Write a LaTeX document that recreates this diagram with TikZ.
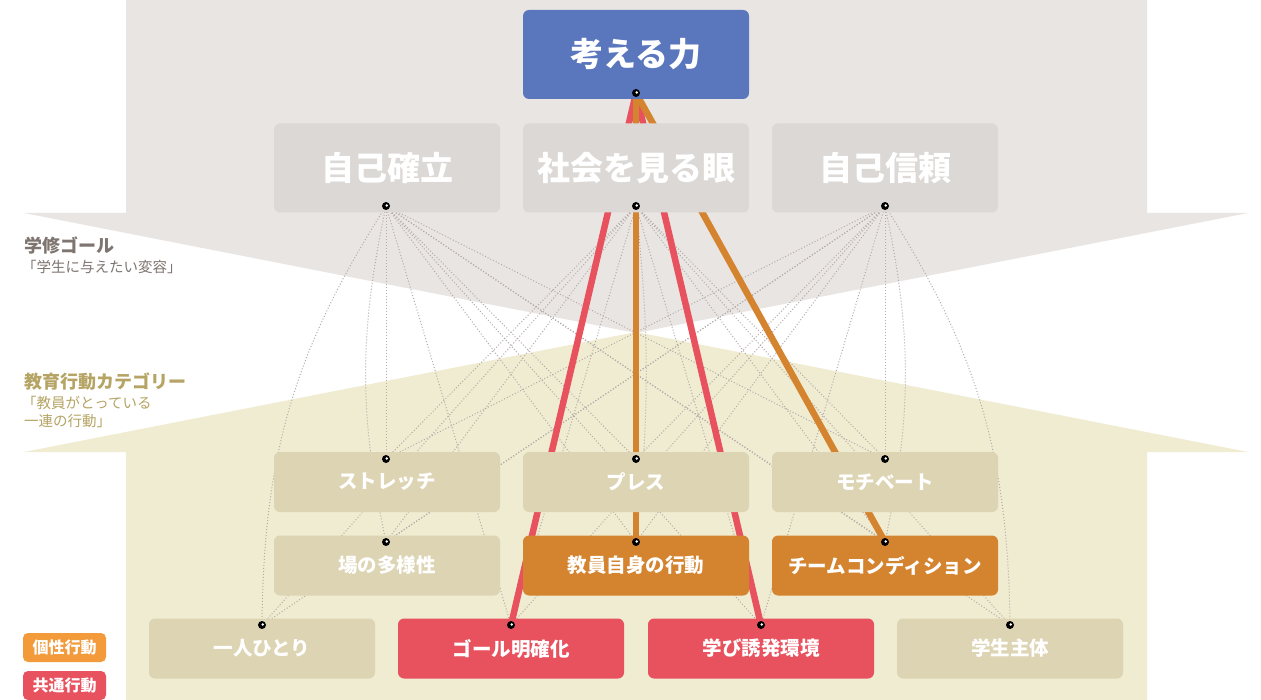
\documentclass[tikz,border=0pt]{standalone}
\usepackage{fontspec}
\newfontfamily\jp{Noto Sans CJK JP}
\usetikzlibrary{calc}
\definecolor{bggray}{HTML}{E9E5E2}
\definecolor{bgbeige}{HTML}{F0ECD1}
\definecolor{boxgray}{HTML}{DCD8D5}
\definecolor{boxbeige}{HTML}{DDD4B4}
\definecolor{kblue}{HTML}{5A77BD}
\definecolor{korange}{HTML}{D4842F}
\definecolor{kred}{HTML}{E8525F}
\definecolor{legor}{HTML}{F39A3B}
\definecolor{dotc}{HTML}{B3A9A9}
\definecolor{lblgray}{HTML}{7F7570}
\definecolor{lblgold}{HTML}{B5A464}
\pgfdeclarelayer{back}
\pgfdeclarelayer{lines}
\pgfdeclarelayer{front}
\pgfsetlayers{back,lines,main,front}
\tikzset{
  box/.style={rounded corners=6pt, minimum width=226pt, inner sep=0pt, text=white, font=\jp\bfseries\fontsize{19.5pt}{22pt}\selectfont},
  bigbox/.style={box, minimum height=89pt, font=\jp\bfseries\fontsize{33pt}{36pt}\selectfont},
  smallbox/.style={box, minimum height=60pt},
  dotn/.style={circle, fill=black, minimum size=8pt, inner sep=0pt,
    path picture={\fill[white] ($(path picture bounding box.center)+(0.7pt,0.5pt)$) circle (1.4pt);}},
  dotline/.style={draw=dotc, line width=1pt, dash pattern=on 1pt off 2pt},
  thickred/.style={draw=kred, line width=6.5pt},
  thickor/.style={draw=korange, line width=6.5pt},
  legbox/.style={rounded corners=5pt, minimum width=83pt, minimum height=29pt, inner sep=0pt, text=white, font=\jp\bfseries\fontsize{16pt}{18pt}\selectfont},
  lblbig/.style={anchor=west, inner sep=0pt, font=\jp\bfseries\fontsize{18pt}{20pt}\selectfont},
  lblsmall/.style={anchor=west, inner sep=0pt, font=\jp\fontsize{14.5pt}{16pt}\selectfont},
}
\begin{document}
\begin{tikzpicture}[x=1pt,y=-1pt]
\useasboundingbox (0,0) rectangle (1261,700);
\begin{pgfonlayer}{back}
\fill[white] (0,0) rectangle (1261,700);
\fill[bggray] (126,0) -- (1147,0) -- (1147,213) -- (1248,213) -- (636,333) -- (24,213) -- (126,213) -- cycle;
\fill[bgbeige] (126,700) -- (126,452) -- (24,452) -- (636,332) -- (1248,452) -- (1147,452) -- (1147,700) -- cycle;
\end{pgfonlayer}

% boxes
\node[bigbox, fill=kblue] (k) at (636,54.5) {考える力};
\node[bigbox, fill=boxgray] (a) at (387,168) {自己確立};
\node[bigbox, fill=boxgray] (b) at (636,168) {社会を見る眼};
\node[bigbox, fill=boxgray] (c) at (885,168) {自己信頼};
\node[smallbox, fill=boxbeige] (s) at (387,482) {ストレッチ};
\node[smallbox, fill=boxbeige] (p) at (636,482) {プレス};
\node[smallbox, fill=boxbeige] (m) at (885,482) {モチベート};
\node[smallbox, fill=boxbeige] (d) at (387,565.5) {場の多様性};
\node[smallbox, fill=korange] (e) at (636,565.5) {教員自身の行動};
\node[smallbox, fill=korange] (t) at (885,565.5) {チームコンディション};
\node[smallbox, fill=boxbeige] (h) at (262,648.5) {一人ひとり};
\node[smallbox, fill=kred] (g) at (511,648.5) {ゴール明確化};
\node[smallbox, fill=kred] (l) at (761,648.5) {学び誘発環境};
\node[smallbox, fill=boxbeige] (u) at (1010,648.5) {学生主体};

% dots
\begin{pgfonlayer}{front}
\node[dotn] (dk) at (636,93) {};
\node[dotn] (da) at (386,206) {};
\node[dotn] (db) at (636,206) {};
\node[dotn] (dc) at (885,206) {};
\node[dotn] (ds) at (386,459) {};
\node[dotn] (dp) at (636,459) {};
\node[dotn] (dm) at (885,459) {};
\node[dotn] (dd) at (386,542) {};
\node[dotn] (de) at (636,542) {};
\node[dotn] (dt) at (885,542) {};
\node[dotn] (dh) at (262,625) {};
\node[dotn] (dg) at (511,625) {};
\node[dotn] (dl) at (761,625) {};
\node[dotn] (du) at (1010,625) {};
\end{pgfonlayer}

% connectors
\begin{pgfonlayer}{lines}
\foreach \src in {da,db,dc}{
  \foreach \dst in {ds,dp,dm,dg,dl}{
    \draw[dotline] (\src.center) -- (\dst.center);
  }
}
\draw[dotline] (da.center) to[bend right=12] (dd.center);
\draw[dotline] (da.center) to[bend right=16] (dh.center);
\draw[dotline] (da.center) -- (de.center);
\draw[dotline] (da.center) -- (dt.center);
\draw[dotline] (da.center) -- (du.center);
\draw[dotline] (db.center) -- (dd.center);
\draw[dotline] (db.center) to[bend left=6] (de.center);
\draw[dotline] (db.center) -- (dt.center);
\draw[dotline] (db.center) -- (dh.center);
\draw[dotline] (db.center) -- (du.center);
\draw[dotline] (dc.center) -- (dd.center);
\draw[dotline] (dc.center) -- (de.center);
\draw[dotline] (dc.center) to[bend left=12] (dt.center);
\draw[dotline] (dc.center) -- (dh.center);
\draw[dotline] (dc.center) to[bend left=16] (du.center);
\draw[thickred] (dk.center) -- (dg.center);
\draw[thickred] (dk.center) -- (dl.center);
\draw[thickor] (dk.center) -- (de.center);
\draw[thickor] (dk.center) -- (dt.center);
\end{pgfonlayer}

% side labels
\node[lblbig, text=lblgray] (l1) at (24,245) {学修ゴール};
\node[lblsmall, text=lblgray] (l2) at (22,267) {「学生に与えたい変容」};
\node[lblbig, text=lblgold] (l3) at (24,382) {教育行動カテゴリー};
\node[lblsmall, text=lblgold] (l4) at (22,403) {「教員がとっている};
\node[lblsmall, text=lblgold] (l5) at (24,421) {一連の行動」};

% legend
\node[legbox, fill=legor] (g1) at (64.5,647.5) {個性行動};
\node[legbox, fill=kred] (g2) at (64.5,685.5) {共通行動};
\end{tikzpicture}
\end{document}
